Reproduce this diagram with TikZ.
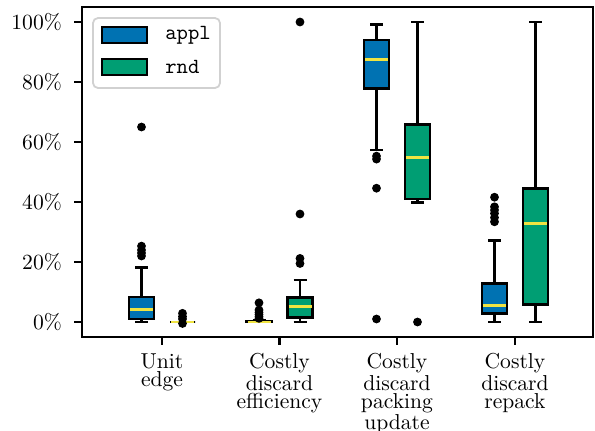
\documentclass[tikz,border=0pt]{standalone}
\usepackage{tikz}
\usetikzlibrary{calc}

\definecolor{applblue}{HTML}{0072B2}
\definecolor{rndgreen}{HTML}{009E73}
\definecolor{medyellow}{HTML}{F0E442}

% one box: centre, low whisker, q1, median, q3, high whisker, fill
\newcommand{\bxp}[7]{%
  \draw[line width=1.3pt] (#1,#2) -- (#1,#3) (#1,#5) -- (#1,#6);
  \draw[line width=1.3pt] (#1-6.5,#2) -- (#1+6.5,#2) (#1-6.5,#6) -- (#1+6.5,#6);
  \draw[line width=1.3pt,fill=#7] (#1-12.5,#3) rectangle (#1+12.5,#5);
  \draw[line width=1.3pt,color=medyellow] (#1-11.5,#4) -- (#1+11.5,#4);
}

\begin{document}
\begin{tikzpicture}[x=0.5pt,y=-0.5pt,font=\fontsize{10.8}{9.1}\selectfont]
%\draw[help lines] (0,0) grid (595,430);
\useasboundingbox (0,0) rectangle (595,430);

\begin{scope}[shift={(0,322)},y=1.5pt]
% y ticks
\foreach \v in {0,20,...,100}
  \draw[line width=1.2pt] (82,\v) -- (74,\v) node[anchor=east,inner sep=0pt,xshift=-5.5pt] (ytick\v) {\v\%};

% unit edge
\bxp{141.5}{0}{1}{4.2}{8.4}{18.2}{applblue}
\bxp{182.5}{0}{0}{0}{0}{0}{rndgreen}
% costly discard efficiency
\bxp{259}{0}{0}{0}{0.3}{0.7}{applblue}
\bxp{300}{0}{1.6}{5.2}{8.1}{14}{rndgreen}
% costly discard packing update
\bxp{376.5}{57.3}{77.9}{87.6}{94}{99.2}{applblue}
\bxp{417.5}{39.8}{41}{54.8}{65.9}{100}{rndgreen}
% costly discard repack
\bxp{494.5}{0}{2.9}{5.6}{12.9}{27.1}{applblue}
\bxp{535.5}{0}{5.9}{32.9}{44.6}{100}{rndgreen}

% outliers
\foreach \x/\v in {141.5/22,141.5/23,141.5/24,141.5/25.3,141.5/65,
                   182.5/2.9,182.5/1.8,182.5/1,182.5/-0.5,
                   259/1.2,259/1.8,259/2.5,259/3.2,259/4,259/6.4,
                   300/19.5,300/21.2,300/36,300/100,
                   376.5/55.3,376.5/54.3,376.5/44.6,376.5/1,
                   417.5/0,
                   494.5/33.4,494.5/34.8,494.5/36.2,494.5/37.3,494.5/38.4,494.5/41.6}
  \fill (\x,\v) circle[radius=2.2pt];
\end{scope}

% frame
\draw[line width=1.2pt] (82,7) rectangle (593,337);

% x ticks
\draw[line width=1.2pt] (162,337) -- (162,345);
\draw[line width=1.2pt] (279.5,337) -- (279.5,345);
\draw[line width=1.2pt] (397,337) -- (397,345);
\draw[line width=1.2pt] (515,337) -- (515,345);
\node[anchor=north,align=center,inner sep=0pt] (unitedge) at (162,353) {Unit\\edge};
\node[anchor=north,align=center,inner sep=0pt] (efficiency) at (279.5,353) {Costly\\discard\\efficiency};
\node[anchor=north,align=center,inner sep=0pt] (packing) at (397,353) {Costly\\discard\\packing\\update};
\node[anchor=north,align=center,inner sep=0pt] (repack) at (515,353) {Costly\\discard\\repack};

% legend
\draw[rounded corners=2.5pt,line width=0.9pt,color=black!18,fill=white] (93,18) rectangle (220,88);
\draw[line width=1.3pt,fill=applblue] (102,27) rectangle (147,43);
\draw[line width=1.3pt,fill=rndgreen] (102,59) rectangle (147,75);
\node[anchor=west,inner sep=0pt] (appl) at (165,35) {\ttfamily appl};
\node[anchor=west,inner sep=0pt] (rnd) at (165,67) {\ttfamily rnd};
\end{tikzpicture}
\end{document}
